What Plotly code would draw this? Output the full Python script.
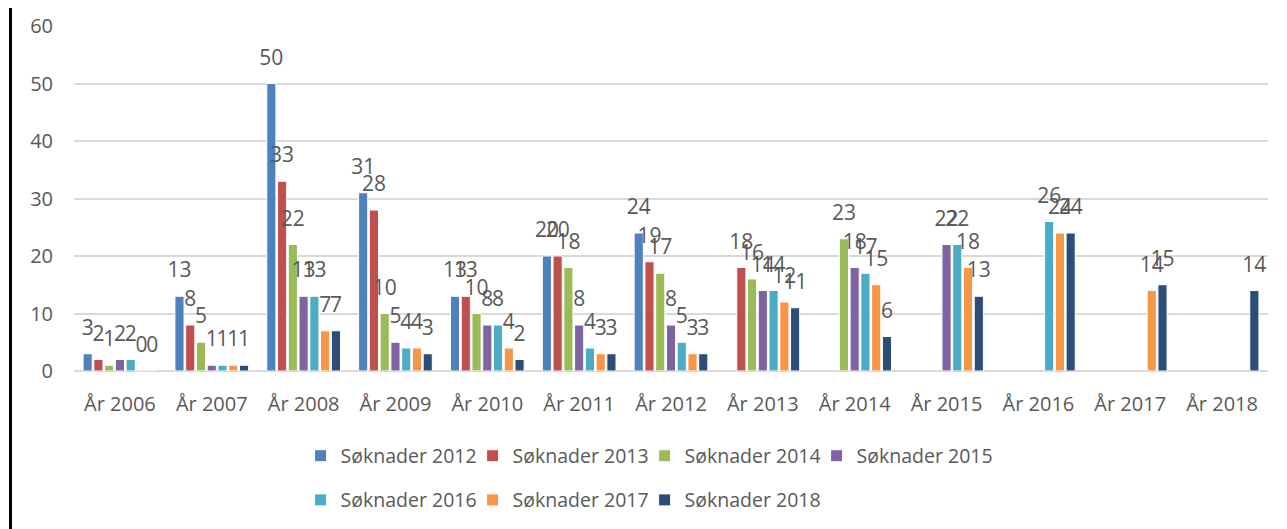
import plotly.graph_objects as go

categories = ["År 2006", "År 2007", "År 2008", "År 2009", "År 2010", "År 2011", "År 2012",
              "År 2013", "År 2014", "År 2015", "År 2016", "År 2017", "År 2018"]

s2012 = [3, 13, 50, 31, 13, 20, 24, None, None, None, None, None, None]
s2013 = [2, 8, 33, 28, 13, 20, 19, 18, None, None, None, None, None]
s2014 = [1, 5, 22, 10, 10, 18, 17, 16, 23, None, None, None, None]
s2015 = [2, 1, 13, 5, 8, 8, 8, 14, 18, 22, None, None, None]
s2016 = [2, 1, 13, 4, 8, 4, 5, 14, 17, 22, 26, None, None]
s2017 = [0, 1, 7, 4, 4, 3, 3, 12, 15, 18, 24, 14, None]
s2018 = [0, 1, 7, 3, 2, 3, 3, 11, 6, 13, 24, 15, 14]

series_names = ["Søknader 2012", "Søknader 2013", "Søknader 2014", "Søknader 2015",
                "Søknader 2016", "Søknader 2017", "Søknader 2018"]
series_values = [s2012, s2013, s2014, s2015, s2016, s2017, s2018]
colors = ["#4F81BD", "#C0504D", "#9BBB59", "#8064A2", "#4BACC6", "#F79646", "#2C4D75"]

FONT = "Open Sans"
TXT = "#595959"

fig = go.Figure()
legend_ids = []
for i, (name, vals, col) in enumerate(zip(series_names, series_values, colors)):
    lg = "legend" if i == 0 else f"legend{i + 1}"
    legend_ids.append(lg)
    fig.add_trace(go.Bar(
        x=categories, y=vals, name=name,
        marker=dict(color=col, line=dict(color="white", width=1)),
        text=[None if v is None else str(v) for v in vals],
        texttemplate="<span style='font-size:21px'>%{text}</span><br> ",
        textposition="outside",
        constraintext="none",
        cliponaxis=False,
        textfont=dict(family=FONT, size=10, color=TXT),
        legend=lg,
    ))

LX = 0.1898
STEP = 172 / 1194
ROWS = [-0.19, -0.318]

legend_layout = {}
for i, lg in enumerate(legend_ids):
    row, col = divmod(i, 4)
    legend_layout[lg] = dict(orientation="h", x=LX + col * STEP, xanchor="left",
                             y=ROWS[row], yanchor="top", bgcolor="rgba(0,0,0,0)",
                             font=dict(family=FONT, size=19.5, color=TXT), itemclick=False)

fig.update_layout(
    width=1279, height=521,
    margin=dict(l=66, r=19, t=18, b=158, autoexpand=False),
    paper_bgcolor="white", plot_bgcolor="white",
    barmode="group", bargap=0.18, bargroupgap=0.15,
    font=dict(family=FONT, size=20, color=TXT),
    showlegend=True,
    xaxis=dict(showgrid=False, showline=False, ticks="outside", ticklen=15, automargin=False,
               tickcolor="rgba(0,0,0,0)", tickfont=dict(family=FONT, size=20, color=TXT)),
    yaxis=dict(range=[0, 60], dtick=10, showgrid=True, gridcolor="#D9D9D9", gridwidth=2,
               zeroline=True, zerolinecolor="#D9D9D9", zerolinewidth=2, automargin=False,
               showline=False, ticks="outside", ticklen=16, tickcolor="rgba(0,0,0,0)",
               tickfont=dict(family=FONT, size=20, color=TXT)),
    shapes=[dict(type="line", xref="paper", yref="paper", xsizemode="pixel", ysizemode="pixel",
                 xanchor=0, yanchor=0, x0=-63.5, x1=-63.5, y0=-170, y1=370,
                 line=dict(color="black", width=3), layer="above")],
    **legend_layout,
)

fig.write_html("out.html")
